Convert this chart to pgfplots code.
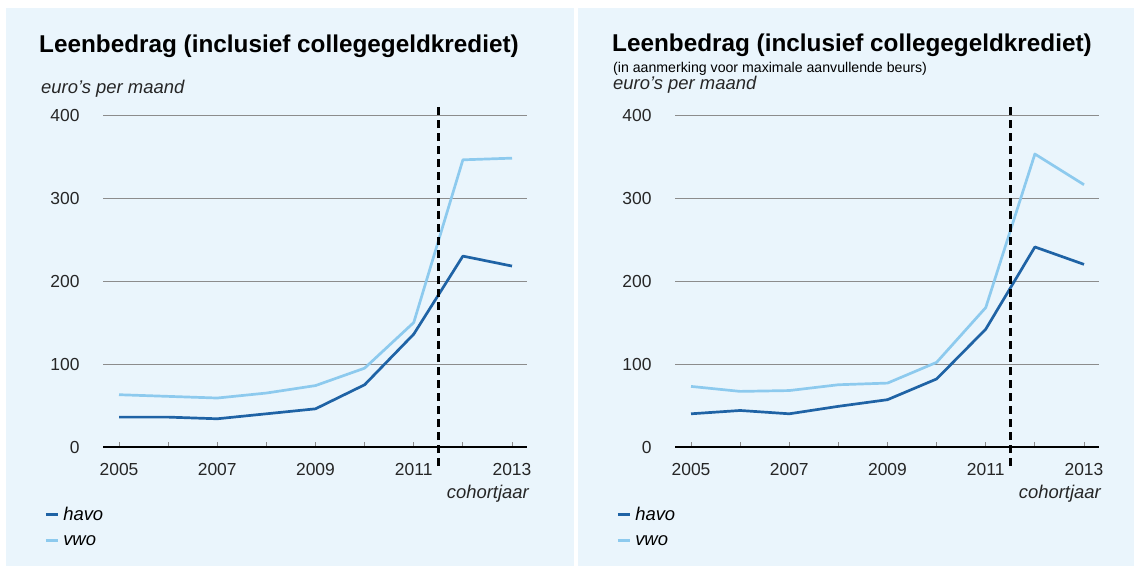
\documentclass[border=0pt]{standalone}
\usepackage{pgfplots}
\pgfplotsset{compat=1.18}
\usepackage{fontspec}
\setmainfont{Liberation Sans}
\definecolor{bg}{HTML}{EAF5FC}
\definecolor{havo}{HTML}{1F63A5}
\definecolor{vwo}{HTML}{8DCAEE}
\definecolor{gridc}{HTML}{8C8C8C}
\pgfplotsset{panel/.style={
 scale only axis, width=424bp, height=332bp,
 xmin=2004.674, xmax=2013.305, ymin=0, ymax=400,
 axis x line=bottom, axis y line=left,
 x axis line style={-, line width=2.2bp, black},
 y axis line style={draw=none},
 xtick={2005,...,2013}, xticklabels={2005,,2007,,2009,,2011,,2013},
 ytick={0,100,200,300,400},
 ymajorgrids, grid style={gridc, line width=0.9bp},
 xtick style={gridc, line width=0.8bp}, ytick style={draw=none},
 tick align=inside, major tick length=5bp,
 ticklabel style={font=\fontsize{17.5}{20}\selectfont, text=black!85},
 /pgf/number format/assume math mode=true,
 /pgf/number format/1000 sep={},
 yticklabel style={xshift=-20bp},
 xticklabel style={yshift=-13bp},
 clip=false,
 every axis plot/.append style={line width=2.7bp, line join=round},
 legend style={draw=none, fill=none, at={(-0.139,-0.175)}, anchor=north west,
   font=\itshape\fontsize{18.5}{20}\selectfont, row sep=9bp, inner sep=0pt,
   nodes={inner xsep=4bp}},
 legend cell align=left,
 legend image code/.code={\draw[##1, line width=3bp] (0bp,0bp) -- (12bp,0bp);},
}}
\begin{document}
\begin{tikzpicture}
\path[use as bounding box] (0,0) rectangle (1134bp,566bp);
\fill[white] (0,0) rectangle (1134bp,566bp);
\fill[bg] (6bp,0) rectangle (574bp,558bp);
\fill[bg] (578bp,0) rectangle (1134bp,558bp);

\node[anchor=base west, font=\bfseries\fontsize{24.4}{28}\selectfont, inner sep=0pt] at (39bp,513bp) {Leenbedrag (inclusief collegegeldkrediet)};
\node[anchor=base west, font=\itshape\fontsize{18.5}{20}\selectfont, inner sep=0pt, text=black!85] at (41bp,472bp) {euro's per maand};
\node[anchor=base west, font=\bfseries\fontsize{24.4}{28}\selectfont, inner sep=0pt] at (612bp,514bp) {Leenbedrag (inclusief collegegeldkrediet)};
\node[anchor=base west, font=\fontsize{14.2}{16}\selectfont, inner sep=0pt] at (613bp,493bp) {(in aanmerking voor maximale aanvullende beurs)};
\node[anchor=base west, font=\itshape\fontsize{18.5}{20}\selectfont, inner sep=0pt, text=black!85] at (613bp,476bp) {euro's per maand};
\node[anchor=base east, font=\itshape\fontsize{18.5}{20}\selectfont, inner sep=0pt, text=black!85] at (529bp,67bp) {cohortjaar};
\node[anchor=base east, font=\itshape\fontsize{18.5}{20}\selectfont, inner sep=0pt, text=black!85] at (1101bp,67bp) {cohortjaar};

\begin{axis}[panel, at={(103bp,119bp)}, anchor=south west]
\addplot[havo] coordinates {(2005,36)(2006,36)(2007,34)(2008,40)(2009,46)(2010,75)(2011,136)(2012,230)(2013,218)};
\addlegendentry{havo}
\addplot[vwo] coordinates {(2005,63)(2006,61)(2007,59)(2008,65)(2009,74)(2010,95)(2011,150)(2012,346)(2013,348)};
\addlegendentry{vwo}
\addplot[black, line width=2.5bp, dash pattern=on 8bp off 5bp, forget plot] coordinates {(2011.5,-23)(2011.5,415)};
\end{axis}

\begin{axis}[panel, at={(675bp,119bp)}, anchor=south west]
\addplot[havo] coordinates {(2005,40)(2006,44)(2007,40)(2008,49)(2009,57)(2010,82)(2011,142)(2012,241)(2013,220)};
\addlegendentry{havo}
\addplot[vwo] coordinates {(2005,73)(2006,67)(2007,68)(2008,75)(2009,77)(2010,102)(2011,168)(2012,353)(2013,316)};
\addlegendentry{vwo}
\addplot[black, line width=2.5bp, dash pattern=on 8bp off 5bp, forget plot] coordinates {(2011.5,-23)(2011.5,415)};
\end{axis}
\end{tikzpicture}
\end{document}
